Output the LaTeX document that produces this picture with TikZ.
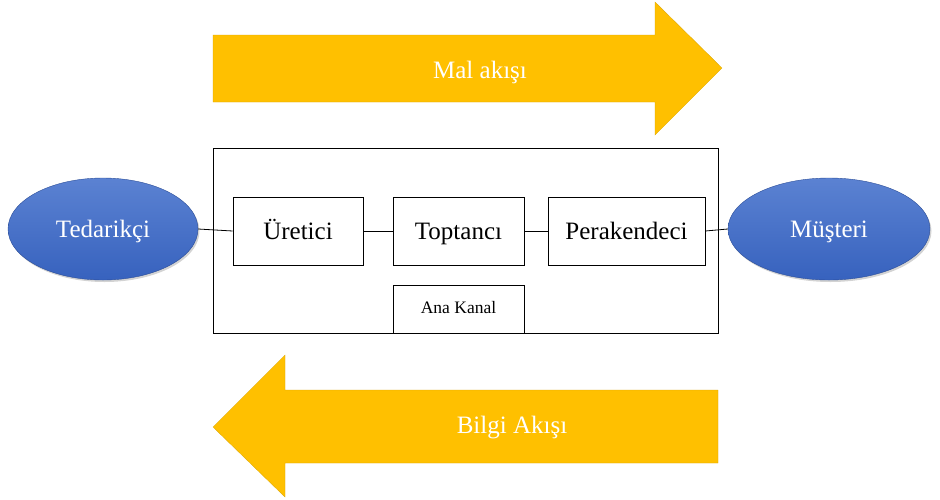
\documentclass[tikz,border=0pt]{standalone}
\usepackage{fontspec}
\setmainfont{Liberation Serif}
\usetikzlibrary{shapes.geometric,shadows}
\definecolor{arrowgold}{HTML}{FFC000}
\definecolor{blueTop}{HTML}{5B82D2}
\definecolor{blueBot}{HTML}{3762BE}
\tikzset{
  party/.style={ellipse, draw=blueBot!80!black, line width=0.4pt, top color=blueTop, bottom color=blueBot,
     drop shadow={opacity=0.35, shadow xshift=1.5pt, shadow yshift=-2pt},
     text=white, font=\fontsize{25}{28}\selectfont, inner sep=0pt, text height=19pt, text depth=3pt},
  stage/.style={draw=black, line width=0.8pt, fill=white, font=\fontsize{25}{28}\selectfont, inner sep=0pt,
     text height=19pt, text depth=3pt},
  flow/.style={fill=arrowgold, draw=arrowgold!85!black, line width=0.3pt},
  flowtext/.style={text=white, font=\fontsize{25}{28}\selectfont, anchor=base, inner sep=0pt},
  link/.style={draw=black, line width=0.8pt}
}
\begin{document}
\begin{tikzpicture}[x=1pt,y=-1pt]
\useasboundingbox (0,0) rectangle (940,499);
% top arrow
\draw[flow] (213,35) -- (655,35) -- (655,2) -- (722,68) -- (655,135) -- (655,102) -- (213,102) -- cycle;
\node[flowtext] (mal) at (480,78) {Mal akışı};
% bottom arrow
\draw[flow] (718,390) -- (285,390) -- (285,355) -- (213,427) -- (285,497) -- (285,463) -- (718,463) -- cycle;
\node[flowtext] (bilgi) at (512,433) {Bilgi Akışı};
% channel frame
\node[draw=black, line width=0.8pt, minimum width=505pt, minimum height=185pt, inner sep=0pt] (frame) at (465.5,240.5) {};
\node[stage, minimum width=130pt, minimum height=68pt] (ure) at (298,231) {Üretici};
\node[stage, minimum width=131pt, minimum height=68pt] (top) at (458.5,231) {Toptancı};
\node[stage, minimum width=157pt, minimum height=68pt] (per) at (626.5,231) {Perakendeci};
\node[draw=black, line width=0.8pt, minimum width=131pt, minimum height=48pt, inner sep=0pt,
      text height=12pt, text depth=3pt, font=\fontsize{17.5}{19}\selectfont] (ana) at (458.5,309) {Ana Kanal};
% parties
\node[party, minimum width=190pt, minimum height=102pt] (ted) at (103,229) {Tedarikçi};
\node[party, minimum width=202pt, minimum height=102pt] (mus) at (829,229) {Müşteri};
% links
\draw[link] (ted.east) -- (ure.west);
\draw[link] (ure.east) -- (top.west);
\draw[link] (top.east) -- (per.west);
\draw[link] (per.east) -- (mus.west);
\end{tikzpicture}
\end{document}
